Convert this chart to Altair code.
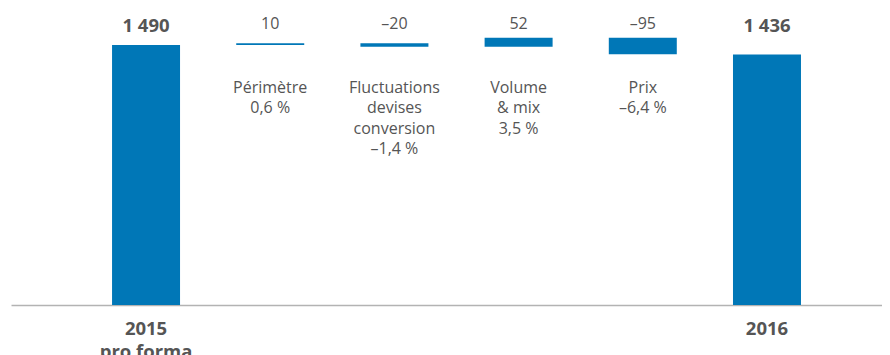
import altair as alt
import pandas as pd

categories = ["2015 pro forma", "Périmètre", "Fluctuations devises conversion", "Volume & mix", "Prix", "2016"]
values = [1490, 10, -20, 52, -95, 1436]
is_total = [True, False, False, False, False, True]
value_labels = ["1 490", "10", "–20", "52", "–95", "1 436"]
inner_labels = ["", "Périmètre\n0,6 %", "Fluctuations\ndevises\nconversion\n–1,4 %", "Volume\n& mix\n3,5 %", "Prix\n–6,4 %", ""]
bottom_labels = ["2015\npro forma", "", "", "", "", "2016"]

# waterfall start/end from the values
starts, ends = [], []
running = 0
for v, t in zip(values, is_total):
    if t:
        starts.append(0)
        ends.append(v)
        running = v
    else:
        starts.append(running)
        running += v
        ends.append(running)

df = pd.DataFrame({
    "cat": categories,
    "start": starts,
    "end": ends,
    "vlabel": value_labels,
    "ilabel": inner_labels,
    "blabel": bottom_labels,
    "total": is_total,
})

BLUE = "#0077b7"
GRAY_TXT = "#555555"
FONT = "Open Sans"

x = alt.X(
    "cat:N", sort=categories,
    scale=alt.Scale(paddingInner=0.4525, paddingOuter=0.733, align=0.555),
    axis=alt.Axis(labels=False, ticks=False, title=None, grid=False,
                  domainColor="#b3b3b3", domainWidth=1.5),
)

base = alt.Chart(df).encode(x=x)

bars = base.mark_bar(color=BLUE).encode(
    y=alt.Y("start:Q", scale=alt.Scale(domain=[0, 1702], nice=False, zero=True), axis=None),
    y2="end:Q",
)

total_lbl = base.transform_filter("datum.total").mark_text(
    font=FONT, fontSize=18.5, fontWeight="bold", color=GRAY_TXT, baseline="alphabetic"
).encode(text="vlabel:N", y=alt.value(23.7))

delta_lbl = base.transform_filter("!datum.total").mark_text(
    font=FONT, fontSize=16, color=GRAY_TXT, baseline="alphabetic"
).encode(text="vlabel:N", y=alt.value(21.3))

inner_lbl = base.transform_filter("!datum.total").mark_text(
    font=FONT, fontSize=16, color=GRAY_TXT, baseline="alphabetic",
    lineBreak="\n", lineHeight=20.5
).encode(text="ilabel:N", y=alt.value(84.7))

bottom_lbl = base.transform_filter("datum.total").mark_text(
    font=FONT, fontSize=18.5, fontWeight="bold", color=GRAY_TXT, baseline="alphabetic",
    lineBreak="\n", lineHeight=23
).encode(text="blabel:N", y=alt.value(327))

chart = alt.layer(bars, total_lbl, delta_lbl, inner_lbl, bottom_lbl).properties(
    width=871, height=297,
    padding={"left": 3, "top": 0, "right": 0, "bottom": 50},
    autosize=alt.AutoSizeParams(type="none"),
).configure(background="white").configure_view(stroke=None, strokeWidth=0)

chart.save("out.html", embed_options={"renderer": "svg", "actions": False})
